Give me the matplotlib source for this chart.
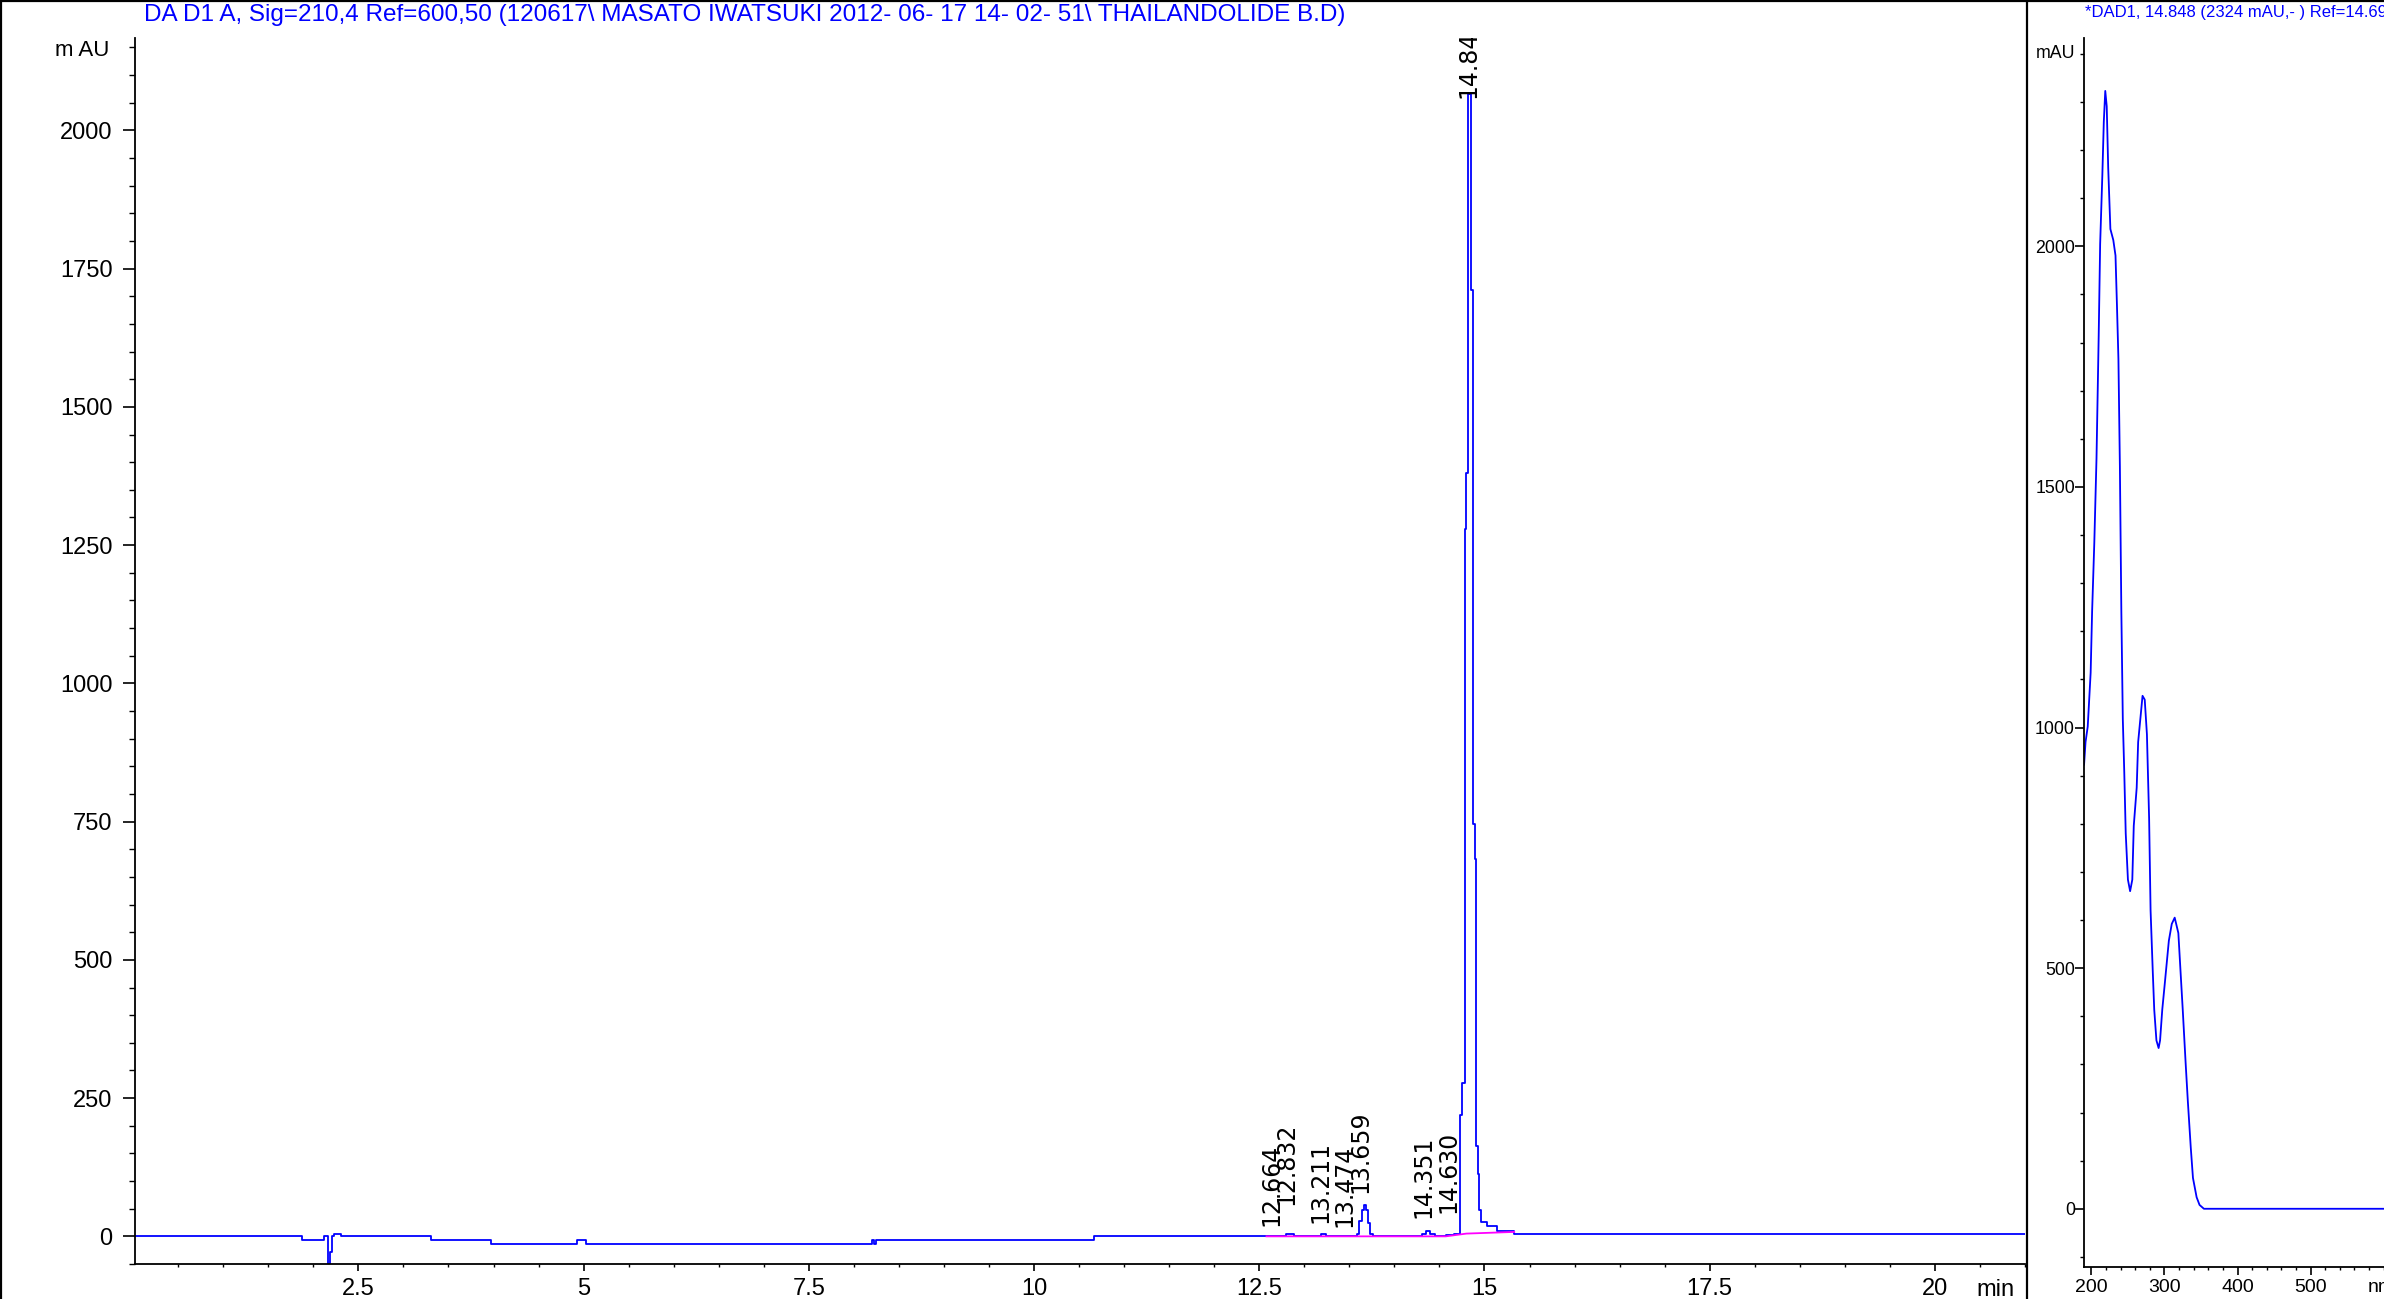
import matplotlib
matplotlib.use("Agg")
import matplotlib.pyplot as plt
from matplotlib import font_manager
from matplotlib.lines import Line2D
from matplotlib.ticker import MultipleLocator, FixedLocator

# --- chromatogram, DAD1 A 210 nm (step breakpoints: min, mAU) ---
rt = [0.0, 1.87, 2.12, 2.16, 2.19, 2.21, 2.23, 2.31, 3.31, 3.97, 4.93, 5.03,
      8.20, 8.22, 8.25, 10.67, 12.80, 12.88, 13.19, 13.24, 13.58, 13.61, 13.64,
      13.66, 13.68, 13.705, 13.73, 13.76, 14.31, 14.35, 14.40, 14.45, 14.57,
      14.66, 14.73, 14.75, 14.78, 14.80, 14.815, 14.85, 14.87, 14.89, 14.91,
      14.925, 14.94, 14.96, 15.03, 15.14, 15.33, 21.0]
signal = [0, -7, 0, -60, -29, 0, 5, 0, -7, -13, -7, -13,
          -6, -13, -6, 0, 4, 0, 4, 0, 5, 27, 48,
          57, 48, 24, 5, 0, 5, 10, 5, 0, 3,
          5, 220, 278, 1280, 1380, 2065, 1712, 746, 682, 163,
          112, 48, 26, 19, 9, 4, 4]

# integration baseline (magenta)
base_rt = [12.58, 14.57, 14.80, 15.33]
base_val = [0, 0, 5, 8]

# peak labels
peak_rt = [12.664, 12.832, 13.211, 13.474, 13.659, 14.351, 14.630, 14.848]
peak_lab = ["12.664", "12.832", "13.211", "13.474", "13.659", "14.351", "14.630", "14.848"]
label_y = [18, 56, 25, 17, 78, 34, 42, 2058]

# --- UV spectrum at 14.848 min ---
wl = [190, 192, 195, 199, 201, 204, 207, 210, 212, 215, 217, 219, 221, 223,
      226, 230, 233, 235, 237, 239, 241, 243, 245, 247, 250, 253, 256, 258,
      262, 264, 268, 270, 273, 276, 279, 281, 284, 286, 289, 292, 294, 297,
      300, 303, 306, 310, 314, 319, 322, 325, 329, 332, 336, 339, 344, 348,
      354, 400, 500, 600]
absorb = [923, 970, 1002, 1114, 1241, 1384, 1559, 1814, 2005, 2148, 2259, 2323,
          2291, 2164, 2036, 2013, 1981, 1877, 1766, 1543, 1241, 1018, 907, 780,
          684, 660, 684, 796, 875, 970, 1034, 1066, 1058, 986, 811, 620, 493,
          414, 350, 334, 350, 414, 461, 509, 557, 592, 605, 573, 493, 414, 302,
          223, 127, 64, 24, 8, 0, 0, 0, 0]

title_main = ("DA D1 A, Sig=210,4 Ref=600,50 (120617\\ MASATO IWATSUKI "
              "2012- 06- 17 14- 02- 51\\ THAILANDOLIDE B.D)")
title_spec = "*DAD1, 14.848 (2324 mAU,- ) Ref=14.695 & 15.288 of 120617\\..."

W, H = 2384, 1299
names = {f.name for f in font_manager.fontManager.ttflist}
narrow = "Liberation Sans Narrow" in names
nfont = "Liberation Sans Narrow" if narrow else "Liberation Sans"
nscale = 1.0 if narrow else 0.8

blue = "#0000ff"

fig = plt.figure(figsize=(W / 100, H / 100), dpi=100)


def rect(l, r, b, t):
    return [l / W, 1 - b / H, (r - l) / W, (b - t) / H]


# main chromatogram panel
ax = fig.add_axes(rect(135, 2025, 1264, 38))
ax.plot(rt, signal, drawstyle="steps-post", color=blue, lw=1.3)
ax.plot(base_rt, base_val, color="#ff00ff", lw=1.3)
ax.set_xlim(0.02, 21.0)
ax.set_ylim(-50, 2167)
for s in ["top", "right"]:
    ax.spines[s].set_visible(False)
for s in ["left", "bottom"]:
    ax.spines[s].set_linewidth(1.3)
ax.xaxis.set_major_locator(FixedLocator([2.5, 5, 7.5, 10, 12.5, 15, 17.5, 20]))
ax.set_xticklabels(["2.5", "5", "7.5", "10", "12.5", "15", "17.5", "20"])
ax.xaxis.set_minor_locator(MultipleLocator(0.5))
ax.yaxis.set_major_locator(MultipleLocator(250))
ax.yaxis.set_minor_locator(MultipleLocator(50))
ax.tick_params(axis="x", which="major", length=5, width=1.2, pad=5,
               labelsize=17, labelfontfamily="Liberation Sans")
ax.tick_params(axis="x", which="minor", length=2.5, width=1.0)
ax.tick_params(axis="y", which="major", length=8.6, width=1.2, pad=7.5,
               labelsize=17, labelfontfamily="Liberation Sans")
ax.tick_params(axis="y", which="minor", length=4.3, width=1.0)
ax.text(20.67, -0.012, "min", transform=ax.get_xaxis_transform(),
        ha="center", va="top", fontsize=17, family="Liberation Sans")
ax.text(-0.0135, 2145, "m AU", transform=ax.get_yaxis_transform(),
        ha="right", va="center", fontsize=16, family="Liberation Sans")

for x, lab, y in zip(peak_rt, peak_lab, label_y):
    ax.annotate(lab, (x, y), xytext=(-2, 0), textcoords="offset points",
                rotation=90, ha="center", va="bottom", fontsize=17,
                family="DejaVu Sans", annotation_clip=False, clip_on=True)

# spectrum panel
ax2 = fig.add_axes(rect(2084, 2384, 1267, 38))
ax2.plot(wl, absorb, color=blue, lw=1.3)
ax2.set_xlim(189.9, 600.4)
ax2.set_ylim(-121, 2433)
for s in ["top", "right"]:
    ax2.spines[s].set_visible(False)
for s in ["left", "bottom"]:
    ax2.spines[s].set_linewidth(1.3)
ax2.xaxis.set_major_locator(FixedLocator([200, 300, 400, 500]))
ax2.xaxis.set_minor_locator(MultipleLocator(20))
ax2.yaxis.set_major_locator(MultipleLocator(500))
ax2.yaxis.set_minor_locator(MultipleLocator(100))
ax2.tick_params(axis="x", which="major", length=5.8, width=1.2, pad=3,
                labelsize=17.5 * nscale, labelfontfamily=nfont)
ax2.tick_params(axis="x", which="minor", length=2.2, width=1.0)
ax2.tick_params(axis="y", which="major", length=6.5, width=1.2, pad=0,
                labelsize=16 * nscale, labelfontfamily=nfont)
ax2.tick_params(axis="y", which="minor", length=3, width=1.0)
ax2.text(-0.03, 2400, "mAU", transform=ax2.get_yaxis_transform(),
         ha="right", va="center", fontsize=16 * nscale, family=nfont)
ax2.text(2368 / W, 1 - 1288 / H, "nm", transform=fig.transFigure,
         ha="left", va="center", fontsize=17.5 * nscale, family=nfont)

# titles
fig.text(144 / W, 1 - 15 / H, title_main, color=blue, ha="left", va="center",
         fontsize=17.5 if not narrow else 18, family=nfont)
fig.text(2085 / W, 1 - 13 / H, title_spec, color=blue, ha="left", va="center",
         fontsize=12 if not narrow else 15, family=nfont)

# report frame lines
for xs, ys in [([0.5 / W, 0.5 / W], [0, 1]), ([0, 1], [1 - 1 / H, 1 - 1 / H]),
               ([2027 / W, 2027 / W], [0, 1])]:
    fig.add_artist(Line2D(xs, ys, color="black", lw=1.6, transform=fig.transFigure))

fig.savefig("out.png", dpi=100)
